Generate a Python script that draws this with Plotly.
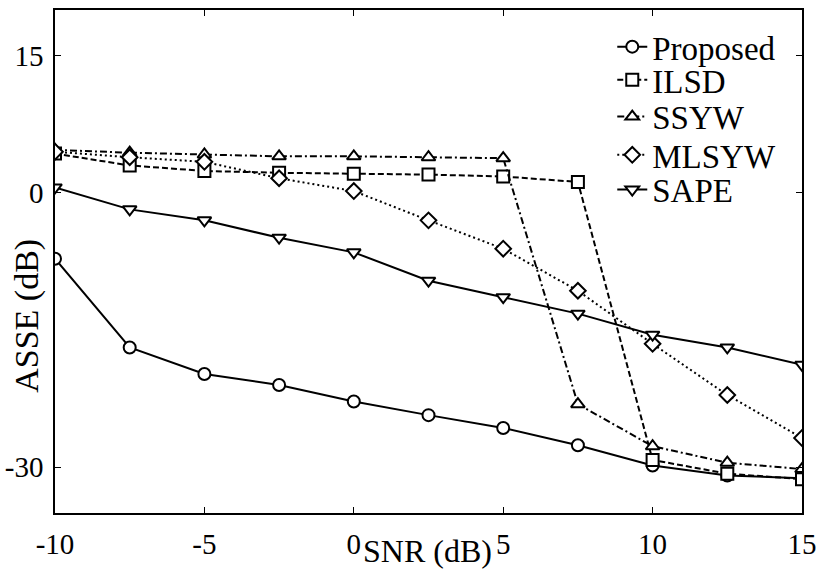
import plotly.graph_objects as go

snr = [-10, -7.5, -5, -2.5, 0, 2.5, 5, 7.5, 10, 12.5, 15]

proposed = [-7.2, -16.9, -19.8, -21.0, -22.8, -24.3, -25.7, -27.6, -29.8, -30.9, -31.2]
ilsd = [4.3, 3.0, 2.4, 2.2, 2.1, 2.0, 1.8, 1.2, -29.2, -30.7, -31.3]
ssyw = [4.7, 4.4, 4.2, 4.0, 4.0, 3.9, 3.8, -23.1, -27.7, -29.5, -30.2]
mlsyw = [4.5, 3.9, 3.4, 1.6, 0.2, -3.0, -6.1, -10.7, -16.5, -22.1, -26.8]
sape = [0.6, -1.8, -3.0, -4.9, -6.5, -9.6, -11.4, -13.2, -15.5, -16.9, -18.8]

series = [
    ("Proposed", proposed, "circle", "solid"),
    ("ILSD", ilsd, "square", "6px,3px"),
    ("SSYW", ssyw, "triangle-up", "7px,3px,2px,3px"),
    ("MLSYW", mlsyw, "diamond", "2px,3px"),
    ("SAPE", sape, "triangle-down", "solid"),
]

x_ticks = [-10, -5, 0, 5, 10, 15]
x_labels = ["-10", "-5", "0", "5", "10", "15"]
y_ticks = [15, 0, -30]
y_labels = ["15", "0", "-30"]

serif = "Liberation Serif"

# one legend box per series so the rows can sit closer than the default spacing
legend_rows = [0.927, 0.861, 0.788, 0.712, 0.643]
legend_names = ["legend", "legend2", "legend3", "legend4", "legend5"]

fig = go.Figure()
for (name, vals, sym, dash), lg in zip(series, legend_names):
    fig.add_trace(go.Scatter(
        x=snr, y=vals, name=name, mode="lines+markers", legend=lg,
        showlegend=True,
        line=dict(color="black", width=2, dash=dash),
        marker=dict(symbol=sym, size=12, color="white",
                    line=dict(color="black", width=2)),
    ))

axis_common = dict(
    showgrid=False, zeroline=False, showline=True, linecolor="black",
    linewidth=1.5, mirror="ticks", ticks="inside", ticklen=6,
    tickcolor="black", tickwidth=1, automargin=False,
    tickfont=dict(family=serif, size=29, color="black"),
)

legend_layout = {}
for lg, ly in zip(legend_names, legend_rows):
    legend_layout[lg] = dict(
        x=0.746, y=ly, xanchor="left", yanchor="middle",
        bgcolor="rgba(0,0,0,0)", borderwidth=0,
        font=dict(family=serif, size=33, color="black"),
        itemwidth=30,
    )

fig.update_layout(
    width=817, height=571,
    margin=dict(l=55, r=15, t=10, b=58),
    paper_bgcolor="white", plot_bgcolor="white",
    showlegend=True,
    xaxis=dict(range=[-10, 15], tickvals=x_ticks, ticktext=x_labels,
               ticklabelstandoff=4, **axis_common),
    yaxis=dict(range=[-35, 20], tickvals=y_ticks, ticktext=y_labels,
               ticklabelstandoff=4, **axis_common),
    annotations=[
        dict(text="SNR (dB)", xref="paper", yref="paper", x=0.4993, y=-0.075,
             xanchor="center", yanchor="middle", showarrow=False,
             font=dict(family=serif, size=32, color="black")),
        dict(text="ASSE (dB)", xref="paper", yref="paper", x=-0.0375, y=0.392,
             xanchor="center", yanchor="middle", showarrow=False, textangle=-90,
             font=dict(family=serif, size=34, color="black")),
    ],
    **legend_layout,
)

fig.write_html("out.html")
